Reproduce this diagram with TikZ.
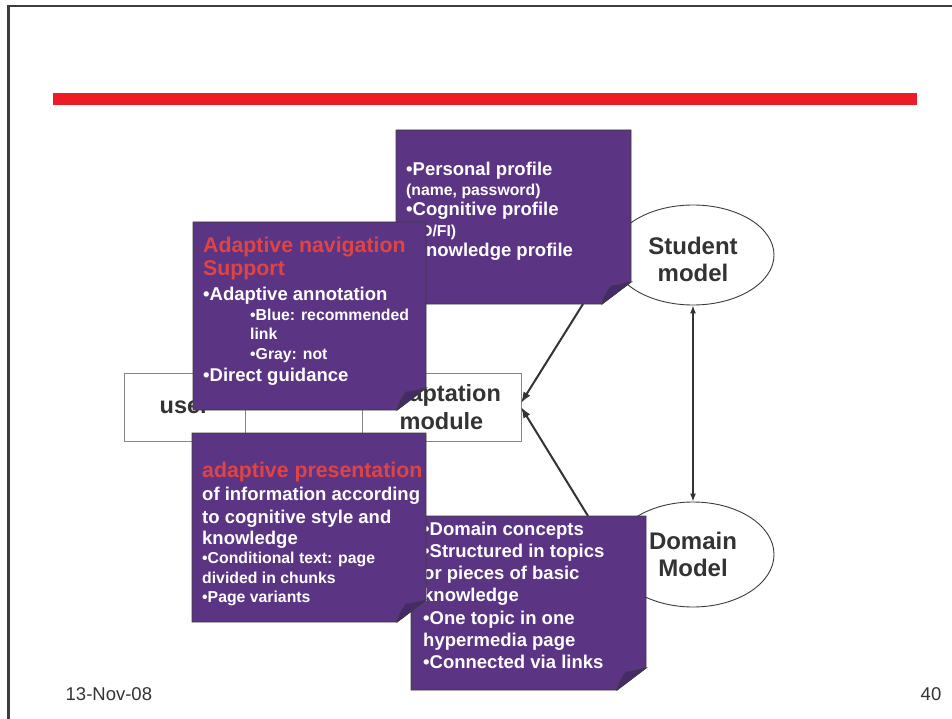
\documentclass[tikz,border=0pt]{standalone}
\usepackage{fontspec}
\setmainfont{Liberation Sans}
\usetikzlibrary{arrows.meta,shapes.geometric,positioning}

\definecolor{notepurple}{HTML}{5B3584}
\definecolor{flappurple}{HTML}{46296A}
\definecolor{headred}{HTML}{DE4444}
\definecolor{barred}{HTML}{ED1C24}
\definecolor{textgray}{HTML}{333333}
\definecolor{edgegray}{HTML}{3C3C3C}
\definecolor{cellgray}{HTML}{858585}
\definecolor{framegray}{HTML}{3D3D3D}

% smaller lines and red headings inside the sticky notes
\newcommand{\smalltext}[1]{{\fontsize{15.8pt}{16pt}\selectfont #1}}
\newcommand{\headtext}[1]{{\color{headred}\fontsize{21.3pt}{22pt}\selectfont #1}}

% purple sheet with a curled lower right corner, drawn over an empty node
\newcommand{\notepaper}[1]{%
  \filldraw[paper] (#1.north west) -- (#1.north east)
    -- ([yshift=22pt]#1.south east) -- ([xshift=-29pt]#1.south east)
    -- (#1.south west) -- cycle;
  \filldraw[flap] ([xshift=-29pt]#1.south east)
    .. controls ([shift={(-26pt,9pt)}]#1.south east) .. ([shift={(-20pt,18pt)}]#1.south east)
    .. controls ([shift={(-12pt,19pt)}]#1.south east) .. ([yshift=22pt]#1.south east) -- cycle;
}

\tikzset{
  sheet/.style={anchor=north west, inner sep=0pt, outer sep=0pt},
  paper/.style={fill=notepurple, draw=edgegray, line width=0.9pt},
  flap/.style={fill=flappurple, draw=edgegray, line width=0.8pt},
  notetext/.style={anchor=north west, inner sep=0pt, align=left, text=white,
    font=\bfseries\fontsize{18.5pt}{#1}\selectfont},
  cell/.style={draw=cellgray, line width=1pt, minimum height=68pt, inner sep=0pt,
    outer sep=0pt, align=center, text=textgray,
    font=\bfseries\fontsize{23.5pt}{28pt}\selectfont},
  model/.style={ellipse, draw=edgegray, line width=0.9pt, minimum width=162pt,
    minimum height=105pt, inner sep=0pt, align=center, text=textgray,
    font=\bfseries\fontsize{24pt}{27pt}\selectfont},
  feed/.style={draw=textgray, line width=2pt, -{Latex[length=11pt,width=8pt]}},
  link/.style={draw=textgray, line width=1.3pt,
    {Latex[length=8pt,width=6pt]}-{Latex[length=8pt,width=6pt]}},
  footer/.style={inner sep=0pt, text=textgray, font=\fontsize{18.5pt}{20pt}\selectfont},
}

\begin{document}
\begin{tikzpicture}[x=1pt, y=-1pt]
  \useasboundingbox (0,0) rectangle (952,719);
  \fill[white] (0,0) rectangle (952,719);

  % slide edge and title rule
  \draw[framegray, line width=3pt] (8.3,719) -- (8.3,5);
  \draw[framegray, line width=2.3pt] (7,6.2) -- (952,6.2);
  \fill[barred] (53,93) rectangle (917,105);

  % row of boxes
  \node[cell, minimum width=121pt] (user) at (184.5,407) {user};
  \node[cell, minimum width=117pt, right=0pt of user] (mid) {};
  \node[cell, minimum width=159pt, right=0pt of mid] (module) {adaptation\\module};

  % the two models
  \node[model, minimum height=100pt, text height=53.5pt] (student) at (693,255) {Student\\model};
  \node[model] (domain) at (693,554.5) {Domain\\Model};
  \draw[link] (student) -- (domain);

  % sheets of the notes
  \node[sheet, minimum width=235pt, minimum height=174pt] (profile) at (396,130) {};
  \node[sheet, minimum width=235pt, minimum height=174pt] (concepts) at (411,516) {};
  \node[sheet, minimum width=233pt, minimum height=188pt] (navigation) at (193,222) {};
  \node[sheet, minimum width=234pt, minimum height=189pt] (presentation) at (192,433) {};

  \draw[feed] ([xshift=-48pt]profile.south east) -- ([yshift=4pt]module.east);
  \draw[feed] ([xshift=-58pt]concepts.north east) -- (module.east);

  \notepaper{profile}
  \node[notetext=20.4pt] (profiletext) at (406,161.5) {%
    •Personal profile\\
    \smalltext{(name, password)}\\
    •Cognitive profile\\
    \smalltext{(FD/FI)}\\
    •Knowledge profile};

  \notepaper{concepts}
  \node[notetext=22.2pt] (conceptstext) at (423,521.7) {%
    •Domain concepts\\
    •Structured in topics\\
    or pieces of basic\\
    knowledge\\
    •One topic in one\\
    hypermedia page\\
    •Connected via links};

  \notepaper{navigation}
  \node[notetext=20pt] (navigationtext) at (203,237) {%
    \headtext{Adaptive navigation}\\[3pt]
    \headtext{Support}\\[5pt]
    •Adaptive annotation\\
    \hspace*{47pt}\smalltext{•Blue: recommended}\\[-1.5pt]
    \hspace*{47pt}\smalltext{link}\\
    \hspace*{47pt}\smalltext{•Gray: not}\\[2pt]
    •Direct guidance};

  \notepaper{presentation}
  \node[notetext=20pt] (presentationtext) at (202,461.4) {%
    \headtext{adaptive presentation}\\[3pt]
    of information according\\[3pt]
    to cognitive style and\\[1pt]
    knowledge\\[-1pt]
    \smalltext{•Conditional text: page}\\
    \smalltext{divided in chunks}\\[-1pt]
    \smalltext{•Page variants}};

  % footer
  \node[footer, anchor=base west] (date) at (65.5,700.7) {13-Nov-08};
  \node[footer, anchor=base east] (page) at (941.5,700.7) {40};
\end{tikzpicture}
\end{document}
